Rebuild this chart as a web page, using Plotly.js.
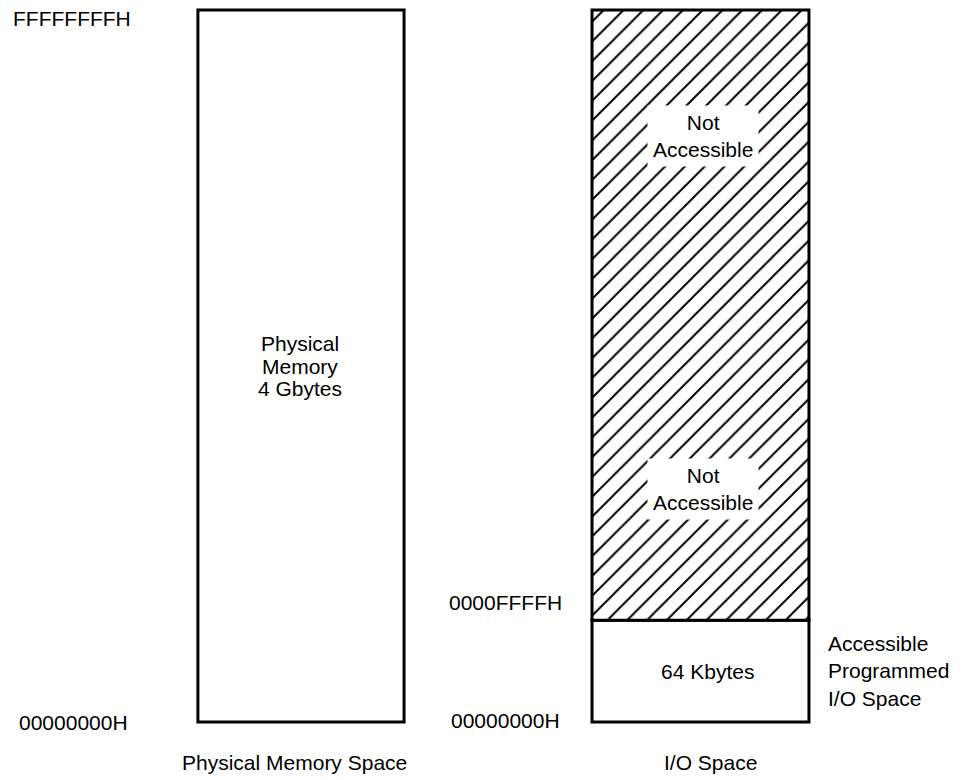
<!DOCTYPE html>
<html>
<head>
<meta charset="utf-8">
<script src="https://cdn.plot.ly/plotly-3.0.1.min.js"></script>
<style>html,body{margin:0;padding:0;background:#fff;}#chart{width:967px;height:780px;}</style>
</head>
<body>
<div id="chart"></div>
<script>
// ---- data (schematic heights, not to scale) ----
const spaces = ['Physical Memory Space', 'I/O Space'];
const physicalLabel = ['Physical', 'Memory', '4 Gbytes'];
const physicalHeight = [7];
const ioSegments = ['64 Kbytes', 'Not Accessible'];
const ioBases = [0, 1];
const ioHeights = [1, 6];
const addrLabels = ['FFFFFFFFH', '00000000H', '0000FFFFH', '00000000H'];
const addrSpace = [0, 0, 1, 1];
const addrValue = [7, 0, 1, 0];
const sideNote = ['Accessible', 'Programmed', 'I/O Space'];

const FONT = 'Liberation Sans, Arial, Helvetica, sans-serif';
const TXT = {family: FONT, size: 21, color: '#000'};
const lineStyle = {color: '#000', width: 3};

const traces = [
  {
    type: 'bar', x: [0], y: physicalHeight, base: [0], width: [0.516],
    marker: {color: '#fff', line: lineStyle},
    hoverinfo: 'skip', showlegend: false
  },
  {
    type: 'bar', x: [1], y: [ioHeights[0]], base: [ioBases[0]], width: [0.543],
    marker: {color: '#fff', line: lineStyle},
    hoverinfo: 'skip', showlegend: false
  },
  {
    type: 'bar', x: [1], y: [ioHeights[1]], base: [ioBases[1]], width: [0.543],
    marker: {color: '#fff', line: lineStyle,
      pattern: {shape: '/', size: 14, solidity: 0.14, fgcolor: '#000', bgcolor: '#fff'}},
    hoverinfo: 'skip', showlegend: false
  }
];

const ann = [];
// Category labels under each space
const catShift = [-6, 10];
spaces.forEach((s, i) => ann.push({
  x: i, y: 0, text: s, showarrow: false, font: TXT,
  xanchor: 'center', yanchor: 'middle', yshift: -40, xshift: catShift[i]
}));
// Physical memory text lines
physicalLabel.forEach((t, i) => ann.push({
  x: 0, y: physicalHeight[0] / 2, text: t, showarrow: false, font: TXT,
  xanchor: 'center', yanchor: 'middle', yshift: (1 - i) * 22.5, xshift: -1
}));
// 64 Kbytes
ann.push({
  x: 1, y: ioBases[0] + ioHeights[0] / 2, text: ioSegments[0], showarrow: false, font: TXT,
  xanchor: 'center', yanchor: 'middle', xshift: 7
});
// Not Accessible (two occurrences, white box over hatching)
const naY = [ioBases[1] + ioHeights[1] * 0.794, ioBases[1] + ioHeights[1] * 0.215];
naY.forEach(v => ann.push({
  x: 1, y: v, text: 'Not<br>Accessible', showarrow: false, font: TXT,
  xanchor: 'center', yanchor: 'middle', bgcolor: '#fff', borderpad: 5, xshift: 3
}));
// Address labels
const addrXShift = [-168, -171, -136, -138];
const addrYShift = [-8, 0, 18, 2];
addrLabels.forEach((t, i) => ann.push({
  x: addrSpace[i], y: addrValue[i], text: t, showarrow: false, font: TXT,
  xanchor: 'right', yanchor: 'middle', xshift: addrXShift[i], yshift: addrYShift[i]
}));
// Side note beside accessible I/O segment
ann.push({
  x: 1, y: ioBases[0] + ioHeights[0] / 2, text: sideNote.join('<br>'), showarrow: false,
  font: TXT, xanchor: 'left', yanchor: 'middle', align: 'left', xshift: 126, yshift: 0
});

const layout = {
  width: 967, height: 780,
  margin: {l: 0, r: 0, t: 0, b: 0},
  paper_bgcolor: '#fff', plot_bgcolor: '#fff',
  barmode: 'overlay',
  xaxis: {range: [-0.7534, 1.6671], visible: false, fixedrange: true},
  yaxis: {range: [-0.570, 7.099], visible: false, fixedrange: true},
  annotations: ann,
  showlegend: false
};

Plotly.newPlot('chart', traces, layout, {displayModeBar: false, staticPlot: true});
</script>
</body>
</html>
